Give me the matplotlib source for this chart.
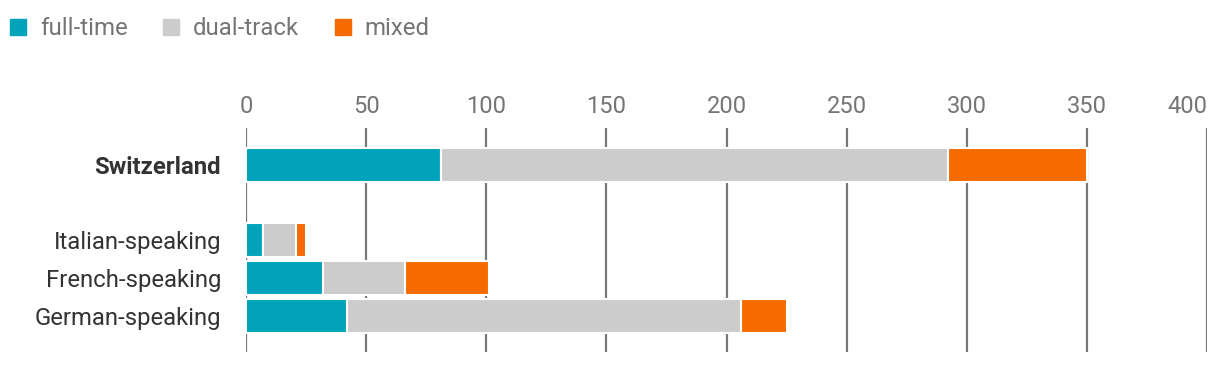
import matplotlib.pyplot as plt
from matplotlib.lines import Line2D

plt.rcParams['font.family'] = ['Roboto', 'DejaVu Sans']

# data
regions = ['Switzerland', 'Italian-speaking', 'French-speaking', 'German-speaking']
positions = [0, 2, 3, 4]
full_time = [81, 7, 32, 42]
dual_track = [211, 14, 34, 164]
mixed = [58, 4, 35, 19]
series_names = ['full-time', 'dual-track', 'mixed']
colors = ['#00a3b9', '#cccccc', '#f56b00']
xticks = [0, 50, 100, 150, 200, 250, 300, 350, 400]

fig = plt.figure(figsize=(12.2, 3.66), dpi=100)
ax = fig.add_axes([246 / 1220, 1 - 352 / 366, (1207 - 246) / 1220, (352 - 128) / 366])

# gridlines behind the bars
for t in xticks:
    ax.axvline(t, color='#777777', lw=1.6, zorder=0)

left = [0] * len(regions)
for vals, name, c in zip([full_time, dual_track, mixed], series_names, colors):
    ax.barh(positions, vals, left=left, height=0.9, color=c, edgecolor='white',
            linewidth=1.5, zorder=2, label=name)
    left = [a + b for a, b in zip(left, vals)]

ax.set_xlim(0, 400)
ax.set_ylim(4.95, -0.97)
ax.set_xticks(xticks)
ax.xaxis.tick_top()
ax.tick_params(axis='x', length=0, pad=7.5, labelsize=17, labelcolor='#757575')
ax.get_xticklabels()[-1].set_horizontalalignment('right')
ax.set_yticks(positions)
ax.set_yticklabels(regions)
ax.tick_params(axis='y', length=0, pad=18, labelsize=17.2, labelcolor='#333333')
ax.get_yticklabels()[0].set_fontweight('bold')
for s in ax.spines.values():
    s.set_visible(False)

handles = [Line2D([], [], marker='s', ls='', markersize=11.5, color=c) for c in colors]
leg = fig.legend(handles, series_names, loc='upper left', bbox_to_anchor=(0.005, 0.953),
                 ncol=3, frameon=False, fontsize=17.3, handlelength=1.0,
                 handletextpad=0.42, columnspacing=1.3, borderpad=0, borderaxespad=0)
for t in leg.get_texts():
    t.set_color('#757575')

fig.savefig('out.png', dpi=100)
